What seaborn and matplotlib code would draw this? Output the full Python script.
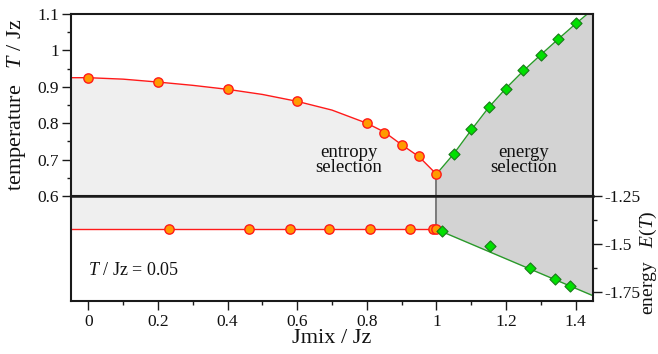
import matplotlib
matplotlib.use("Agg")
import matplotlib.pyplot as plt
import seaborn as sns
import numpy as np
import pandas as pd
from matplotlib.ticker import MultipleLocator, FuncFormatter

# ---------------- data ----------------
# top panel: transition temperature
red_x = [0, 0.2, 0.4, 0.6, 0.8, 0.85, 0.9, 0.95, 1.0]
red_T = [0.924, 0.912, 0.894, 0.860, 0.800, 0.774, 0.739, 0.710, 0.660]
red_fit_x = [-0.05, 0, 0.1, 0.2, 0.3, 0.4, 0.5, 0.6, 0.7, 0.8, 0.85, 0.9, 0.95, 1.0]
red_fit_T = [0.925, 0.925, 0.921, 0.913, 0.904, 0.893, 0.879, 0.860, 0.836, 0.800, 0.776, 0.741, 0.708, 0.660]

green_x = [1.05, 1.1, 1.15, 1.2, 1.25, 1.3, 1.35, 1.4]
green_T = [0.715, 0.783, 0.845, 0.895, 0.945, 0.987, 1.030, 1.075]
green_fit_x = [1.0, 1.05, 1.1, 1.15, 1.2, 1.25, 1.3, 1.35, 1.4, 1.45]
green_fit_T = [0.660, 0.716, 0.781, 0.843, 0.896, 0.944, 0.988, 1.031, 1.073, 1.113]

# bottom panel: energy at T/Jz = 0.05
e_red_x = [0.231, 0.461, 0.578, 0.690, 0.808, 0.923, 0.99, 1.0]
e_red_E = [-1.424, -1.424, -1.424, -1.424, -1.424, -1.424, -1.424, -1.424]
e_red_err = [0.002, 0.003, 0.007, 0.002, 0.002, 0.004, 0.004, 0.002]
e_red_line_x = [-0.05, 1.0]
e_red_line_E = [-1.424, -1.424]

e_green_x = [1.017, 1.155, 1.269, 1.340, 1.385]
e_green_E = [-1.432, -1.510, -1.628, -1.682, -1.719]
e_green_line_x = [1.0, 1.45]
e_green_line_E = [-1.424, -1.771]

x_ticks = [0, 0.2, 0.4, 0.6, 0.8, 1.0, 1.2, 1.4]
T_ticks = [0.6, 0.7, 0.8, 0.9, 1.0, 1.1]
E_ticks = [-1.25, -1.5, -1.75]

# ---------------- style ----------------
sns.set_theme(style="ticks")
plt.rcParams['font.family'] = ['Liberation Serif', 'DejaVu Serif']
plt.rcParams['mathtext.fontset'] = 'custom'
plt.rcParams['mathtext.rm'] = 'Liberation Serif'
plt.rcParams['mathtext.it'] = 'Liberation Serif:italic'

LIGHT = '#efefef'
DARK = '#d3d3d3'
RED = '#ff1a1a'
ORANGE = '#ff9a00'
GREEN_L = '#2a9a2a'
GREEN_F = '#00e000'
SPINE = '#1a1a1a'
TXT = '#111111'
TICKFS = 12.5

fig = plt.figure(figsize=(6.58, 3.54), dpi=100)
L, R = 71 / 658, 593 / 658
ax1 = fig.add_axes([L, 1 - 196 / 354, R - L, (196 - 14) / 354])
ax2 = fig.add_axes([L, 1 - 300.7 / 354, R - L, (300.7 - 196) / 354])

xmin, xmax = -0.05, 1.45
Tmin, Tmax = 0.6, 1.1
Emin, Emax = -1.797, -1.25

# ---------- top panel ----------
ax1.fill_between(red_fit_x, Tmin, red_fit_T, color=LIGHT, lw=0, zorder=0)
ax1.fill_between(green_fit_x, Tmin, green_fit_T, color=DARK, lw=0, zorder=0)
ax1.plot([1.0, 1.0], [Tmin, 0.66], color='#666666', lw=1.2, zorder=1)
sns.lineplot(x=red_fit_x, y=red_fit_T, ax=ax1, color=RED, lw=1.0, sort=False, zorder=2)
sns.lineplot(x=green_fit_x, y=green_fit_T, ax=ax1, color=GREEN_L, lw=1.0, sort=False, zorder=2)
sns.scatterplot(x=red_x, y=red_T, ax=ax1, s=45, color=ORANGE, edgecolor=RED, linewidth=1.0, zorder=3)
sns.scatterplot(x=green_x, y=green_T, ax=ax1, s=32, marker='D', color=GREEN_F, edgecolor='#1a7a1a', linewidth=0.8, zorder=3)

ax1.set_xlim(xmin, xmax)
ax1.set_ylim(Tmin, Tmax)
ax1.set_yticks(T_ticks)
ax1.yaxis.set_minor_locator(MultipleLocator(0.05))
ax1.yaxis.set_major_formatter(FuncFormatter(lambda v, p: f"{v:g}"))
ax1.tick_params(axis='y', which='major', direction='out', length=6.5, width=1.0, labelsize=TICKFS, colors=SPINE, labelcolor=TXT, pad=2)
ax1.tick_params(axis='y', which='minor', direction='out', length=3.2, width=1.0, colors=SPINE)
ax1.tick_params(axis='x', which='both', bottom=False, labelbottom=False)
for s in ax1.spines.values():
    s.set_color(SPINE)
    s.set_linewidth(1.5)
ax1.set_xlabel('')
ax1.set_ylabel('')

ax1.text(0.749, 0.700, "entropy\nselection", ha='center', va='center', fontsize=13.5, linespacing=0.85, color=TXT)
ax1.text(1.251, 0.700, "energy\nselection", ha='center', va='center', fontsize=13.5, linespacing=0.85, color=TXT)

# ---------- bottom panel ----------
ax2.fill_between(e_red_line_x, e_red_line_E, Emax, color=LIGHT, lw=0, zorder=0)
ax2.fill_between(e_green_line_x, e_green_line_E, Emax, color=DARK, lw=0, zorder=0)
ax2.plot([1.0, 1.0], [Emax, -1.424], color='#666666', lw=1.2, zorder=1)
sns.lineplot(x=e_red_line_x, y=e_red_line_E, ax=ax2, color=RED, lw=1.0, zorder=2)
sns.lineplot(x=e_green_line_x, y=e_green_line_E, ax=ax2, color=GREEN_L, lw=1.0, zorder=2)
ax2.errorbar(e_red_x, e_red_E, yerr=e_red_err, fmt='none', ecolor=RED, elinewidth=1.0, capsize=3, capthick=1.0, zorder=2.5)
sns.scatterplot(x=e_red_x, y=e_red_E, ax=ax2, s=45, color=ORANGE, edgecolor=RED, linewidth=1.0, zorder=3)
sns.scatterplot(x=e_green_x, y=e_green_E, ax=ax2, s=32, marker='D', color=GREEN_F, edgecolor='#1a7a1a', linewidth=0.8, zorder=3)

ax2.set_xlim(xmin, xmax)
ax2.set_ylim(Emin, Emax)
ax2.yaxis.tick_right()
ax2.set_yticks(E_ticks)
ax2.yaxis.set_minor_locator(MultipleLocator(0.125))
ax2.yaxis.set_major_formatter(FuncFormatter(lambda v, p: f"{v:g}"))
ax2.tick_params(axis='y', which='major', direction='out', length=6.5, width=1.0, labelsize=TICKFS, colors=SPINE, labelcolor=TXT, pad=2, left=False, right=True)
ax2.tick_params(axis='y', which='minor', direction='out', length=3.2, width=1.0, colors=SPINE, left=False, right=True)
ax2.set_xticks(x_ticks)
ax2.xaxis.set_minor_locator(MultipleLocator(0.1))
ax2.xaxis.set_major_formatter(FuncFormatter(lambda v, p: f"{v:g}"))
ax2.tick_params(axis='x', which='major', direction='out', length=6.5, width=1.0, labelsize=TICKFS, colors=SPINE, labelcolor=TXT, pad=3)
ax2.tick_params(axis='x', which='minor', direction='out', length=3.2, width=1.0, colors=SPINE)
ax2.tick_params(axis='x', which='both', top=False)
for s in ax2.spines.values():
    s.set_color(SPINE)
    s.set_linewidth(1.5)
ax2.spines['top'].set_linewidth(1.8)
ax2.set_ylabel('')
ax2.set_xlabel("Jmix / Jz", fontsize=16, labelpad=-1, color=TXT)

ax2.text(0.0, -1.64, r"$T$ / Jz = 0.05", ha='left', va='center', fontsize=13, color=TXT)

# axis titles
fig.text(17 / 658, 1 - 105 / 354, r"temperature   $T$ / Jz", rotation=90, ha='center', va='center', fontsize=16, color=TXT)
fig.text(648 / 658, 1 - 263 / 354, r"energy   $E(T)$", rotation=90, ha='center', va='center', fontsize=14, color=TXT)

fig.savefig("out.png", dpi=100)
